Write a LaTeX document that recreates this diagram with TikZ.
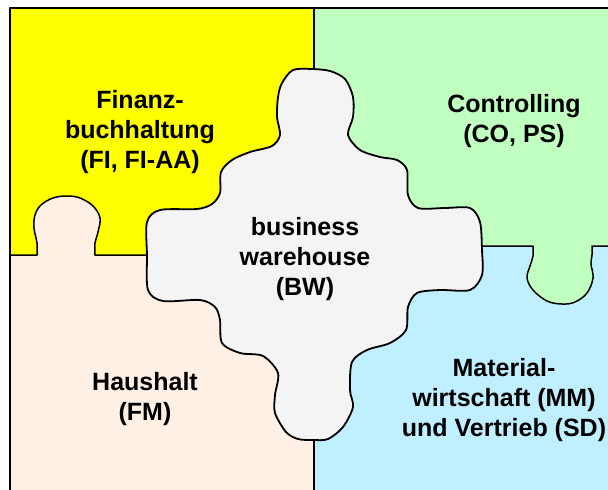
\documentclass[tikz,border=0pt]{standalone}
\usepackage{fontspec}
\setmainfont{Liberation Sans}
\definecolor{fiyellow}{HTML}{FFFF00}
\definecolor{cogreen}{HTML}{C0FFC0}
\definecolor{fmpeach}{HTML}{FFF0E6}
\definecolor{mmblue}{HTML}{C0F0FF}
\definecolor{bwgray}{HTML}{F4F4F4}
\tikzset{
  edge line/.style={line width=1.5pt, line join=round, line cap=round},
  bw outline/.style={line width=1.8pt, line join=round, fill=bwgray},
  label text/.style={align=center, font=\bfseries\fontsize{25}{30}\selectfont, inner sep=0pt}
}
\begin{document}
\begin{tikzpicture}[x=1pt, y=-1pt]
\useasboundingbox (0,0) rectangle (608,490);
\clip (0,0) rectangle (608,490);
\fill[white] (0,0) rectangle (608,490);

% four quarters of the puzzle
\fill[fiyellow] (10,8) rectangle (314,255);
\fill[cogreen] (314,8) rectangle (620,246);
\fill[fmpeach] (10,255) rectangle (314,500);
\fill[mmblue] (314,246) rectangle (620,500);

% knob of the FM piece reaching up into FI
\fill[fmpeach] (37,256) -- plot[smooth, tension=0.6] coordinates
  {(37,255) (37,243) (34,228) (35,215) (41,205) (53,198) (67,196) (80,198) (93,206) (100,218) (98,232) (95,243) (95,255)} -- (95,256) -- cycle;
% knob of the CO piece reaching down into MM
\fill[cogreen] (533,245) -- plot[smooth, tension=0.6] coordinates
  {(533,246) (533,256) (530,266) (527,278) (533,290) (547,301) (562,304) (575,302) (587,293) (593,278) (591,264) (592,255) (592,246)} -- (592,245) -- cycle;

% outer frame
\draw[edge line] (10,500) -- (10,8) -- (620,8);
% seams between the pieces
\draw[edge line] (314,8) -- (314,100);
\draw[edge line] (314,420) -- (314,500);
\draw[edge line] (10,255) -- plot[smooth, tension=0.6] coordinates
  {(37,255) (37,243) (34,228) (35,215) (41,205) (53,198) (67,196) (80,198) (93,206) (100,218) (98,232) (95,243) (95,255)} -- (170,255);
\draw[edge line] (460,246) -- plot[smooth, tension=0.6] coordinates
  {(533,246) (533,256) (530,266) (527,278) (533,290) (547,301) (562,304) (575,302) (587,293) (593,278) (591,264) (592,255) (592,246)} -- (620,246);

% central business warehouse piece
\draw[bw outline] plot[smooth cycle, tension=0.5] coordinates {
  (293,70) (312,69) (330,71) (345,79) (353,97) (353,117) (348,135)
  (360,150) (380,157) (397,160) (407,170) (408,195) (418,208)
  (445,208) (470,208) (480,222) (482,250) (482,275) (470,290)
  (440,290) (417,293) (408,307) (406,330) (390,343) (367,350)
  (352,362) (350,390) (353,407) (343,427) (328,439) (313,440)
  (298,439) (286,432) (275,413) (275,395) (278,373) (263,356)
  (240,353) (222,343) (220,320) (215,307) (200,300) (163,301)
  (148,290) (147,255) (147,222) (160,210) (197,209) (212,204)
  (220,193) (221,172) (232,160) (250,152) (272,146) (280,135)
  (277,117) (278,97) (282,83)};

% labels
\node[label text] (fi) at (140,132) {Finanz-\\buchhaltung\\(FI, FI-AA)};
\node[label text] (co) at (514,121) {Controlling\\(CO, PS)};
\node[label text] (bw) at (305,259) {business\\warehouse\\(BW)};
\node[label text] (fm) at (145,399) {Haushalt\\(FM)};
\node[label text] (mm) at (504,400) {Material-\\wirtschaft (MM)\\und Vertrieb (SD)};
\end{tikzpicture}
\end{document}
